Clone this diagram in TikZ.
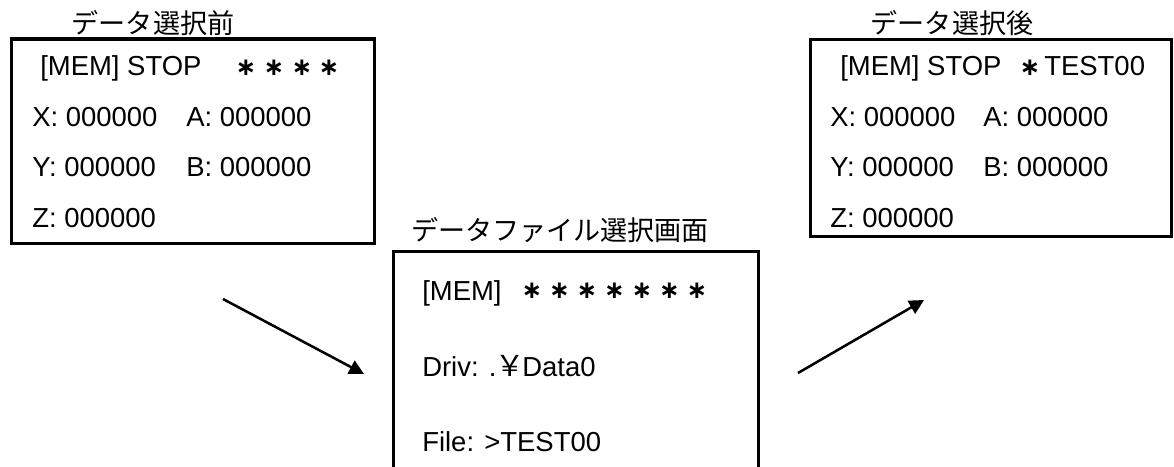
\documentclass[tikz,border=0pt]{standalone}
\usepackage{fontspec}
\setmainfont{Liberation Sans}
\newfontfamily\jp{Noto Sans CJK JP}
\newfontfamily\djb{DejaVu Sans Bold}
\usetikzlibrary{arrows.meta}
\begin{document}
\begin{tikzpicture}[x=0.75pt,y=-0.75pt,
  box/.style={draw, line width=2.3pt, inner sep=0pt, anchor=north west},
  txt/.style={anchor=base west, inner sep=0pt, font=\fontsize{20.6}{24}\selectfont},
  jtxt/.style={inner sep=0pt, font=\fontsize{20.3}{24}\selectfont\jp},
  jb/.style={anchor=base, inner sep=0pt, font=\fontsize{20.6}{24}\selectfont\jp},
  star/.style={anchor=center, inner sep=0pt, font=\fontsize{18.5}{24}\selectfont\djb},
  arr/.style={line width=1.9pt, -{Triangle[length=11pt,width=11pt]}}]
\path[use as bounding box, clip] (0,0) rectangle (1174,467);
\fill[white] (0,0) rectangle (1174,467);

% boxes
\node[box, minimum width=272.25pt, minimum height=153.4pt] (b1) at (10,37.5) {};
\node[box, minimum width=273.75pt, minimum height=200pt] (b2) at (392,250) {};
\node[box, minimum width=270.75pt, minimum height=147.75pt] (b3) at (809,38) {};

% titles
\node[jtxt] (t1) at (153,23) {データ選択前};
\node[jtxt] (t2) at (560,230) {データファイル選択画面};
\node[jtxt] (t3) at (952,23) {データ選択後};

% left box
\node[txt] (l1) at (40,76) {[MEM] STOP};
\foreach \i/\x in {1/246,2/274,3/302,4/329}
  \node[star] (ls\i) at (\x,68) {∗};
\node[txt] (l2) at (32,126) {X: 000000};
\node[txt] (l2b) at (186,126) {A: 000000};
\node[txt] (l3) at (32,176) {Y: 000000};
\node[txt] (l3b) at (186,176) {B: 000000};
\node[txt] (l4) at (32,227) {Z: 000000};

% middle box
\node[txt] (m1) at (422,300) {[MEM]};
\foreach \i in {0,...,6}
  \node[star] (ms\i) at (532+27.5*\i,291) {∗};
\node[txt] (m2) at (422,376) {Driv: .};
\node[jb, font=\fontsize{22}{24}\selectfont\jp] (m2y) at (510,376) {￥};
\node[txt] (m2b) at (522,376) {Data0};
\node[txt] (m3) at (422,451) {File: >TEST00};

% right box
\node[txt] (r1) at (840,76) {[MEM] STOP};
\node[star] (rs) at (1030,68) {∗};
\node[txt] (r1b) at (1044,76) {TEST00};
\node[txt] (r2) at (830,126) {X: 000000};
\node[txt] (r2b) at (983,126) {A: 000000};
\node[txt] (r3) at (830,176) {Y: 000000};
\node[txt] (r3b) at (983,176) {B: 000000};
\node[txt] (r4) at (830,227) {Z: 000000};

% arrows
\coordinate (a1s) at (223,299);
\coordinate (a1e) at (364,374);
\coordinate (a2s) at (798,373);
\coordinate (a2e) at (924,300);
\draw[arr] (a1s) -- (a1e);
\draw[arr] (a2s) -- (a2e);
\end{tikzpicture}
\end{document}
